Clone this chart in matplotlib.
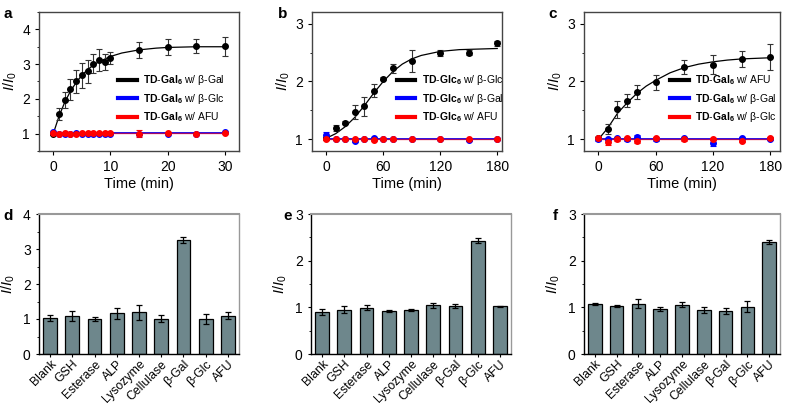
import numpy as np
import matplotlib.pyplot as plt
from matplotlib.ticker import MultipleLocator

plt.rcParams['font.family'] = ['Liberation Sans', 'DejaVu Sans']
plt.rcParams['mathtext.fontset'] = 'custom'
plt.rcParams['mathtext.rm'] = 'Liberation Sans'
plt.rcParams['mathtext.it'] = 'Liberation Sans:italic'
plt.rcParams['mathtext.bf'] = 'Liberation Sans:bold'

# ---- panel a: TD-Gal6 kinetics (30 min) ----
t_a = [0, 1, 2, 3, 4, 5, 6, 7, 8, 9, 10, 15, 20, 25, 30]
a_gal = [1.0, 1.57, 1.97, 2.28, 2.50, 2.68, 2.79, 3.01, 3.12, 3.07, 3.17, 3.41, 3.49, 3.52, 3.51]
a_gal_err = [0.03, 0.17, 0.23, 0.30, 0.32, 0.36, 0.34, 0.27, 0.31, 0.23, 0.18, 0.24, 0.23, 0.19, 0.27]
a_glc = [1.04, 1.0, 1.0, 1.0, 1.01, 1.0, 1.0, 0.99, 1.0, 1.0, 1.0, 1.0, 1.0, 1.0, 1.04]
a_glc_err = [0.02] * 15
a_afu = [1.02, 0.98, 1.02, 0.99, 1.0, 1.03, 1.01, 1.02, 1.02, 1.03, 1.03, 1.0, 1.03, 1.0, 1.03]
a_afu_err = [0.02, 0.02, 0.02, 0.02, 0.02, 0.02, 0.02, 0.02, 0.02, 0.02, 0.02, 0.1, 0.02, 0.02, 0.02]
a_fit_t = [0, 1, 2, 3, 4, 5, 6, 7, 8, 10, 12, 15, 18, 20, 25, 30]
a_fit = [1.0, 1.5, 1.9, 2.22, 2.47, 2.68, 2.84, 2.97, 3.07, 3.22, 3.32, 3.41, 3.46, 3.48, 3.50, 3.50]

# ---- panel b: TD-Glc6 kinetics (180 min) ----
t_b = [0, 10, 20, 30, 40, 50, 60, 70, 90, 120, 150, 180]
b_glc = [1.02, 1.20, 1.29, 1.48, 1.57, 1.84, 2.05, 2.23, 2.36, 2.49, 2.50, 2.66]
b_glc_err = [0.03, 0.05, 0.03, 0.12, 0.16, 0.11, 0.03, 0.08, 0.19, 0.05, 0.04, 0.04]
b_gal = [1.07, 1.0, 1.0, 0.97, 1.0, 1.02, 1.0, 1.0, 1.0, 1.01, 0.99, 1.0]
b_gal_err = [0.05, 0.01, 0.01, 0.02, 0.01, 0.02, 0.01, 0.01, 0.01, 0.01, 0.01, 0.01]
b_afu = [1.0, 1.0, 1.0, 1.0, 1.01, 0.99, 1.01, 1.0, 1.01, 1.0, 1.0, 1.01]
b_afu_err = [0.01] * 12
b_fit_t = [0, 10, 20, 30, 40, 50, 60, 70, 80, 90, 100, 120, 140, 160, 180]
b_fit = [1.02, 1.1, 1.22, 1.38, 1.58, 1.8, 2.0, 2.17, 2.3, 2.39, 2.45, 2.52, 2.55, 2.56, 2.57]

# ---- panel c: TD-Gal6 with AFU (180 min) ----
t_c = [0, 10, 20, 30, 40, 60, 90, 120, 150, 180]
c_afu = [1.02, 1.18, 1.52, 1.67, 1.82, 1.99, 2.25, 2.29, 2.39, 2.42]
c_afu_err = [0.02, 0.09, 0.15, 0.11, 0.12, 0.13, 0.12, 0.16, 0.14, 0.22]
c_gal = [1.0, 1.01, 1.02, 1.0, 1.04, 1.0, 1.02, 0.94, 1.02, 1.01]
c_gal_err = [0.02, 0.02, 0.02, 0.02, 0.03, 0.02, 0.02, 0.05, 0.02, 0.02]
c_glc = [1.03, 0.96, 1.0, 1.03, 0.97, 1.02, 1.0, 1.01, 0.98, 1.02]
c_glc_err = [0.02, 0.05, 0.02, 0.02, 0.04, 0.02, 0.02, 0.02, 0.02, 0.02]
c_fit_t = [0, 10, 20, 30, 40, 50, 60, 75, 90, 105, 120, 135, 150, 165, 180]
c_fit = [1.0, 1.2, 1.45, 1.63, 1.79, 1.92, 2.02, 2.15, 2.24, 2.3, 2.34, 2.37, 2.39, 2.4, 2.41]

# ---- panels d-f: selectivity bars ----
enzymes = ['Blank', 'GSH', 'Esterase', 'ALP', 'Lysozyme', 'Cellulase', 'β-Gal', 'β-Glc', 'AFU']
d_vals = [1.02, 1.09, 1.0, 1.16, 1.19, 1.01, 3.26, 0.99, 1.10]
d_err = [0.09, 0.15, 0.07, 0.15, 0.22, 0.10, 0.09, 0.14, 0.10]
e_vals = [0.90, 0.95, 0.99, 0.92, 0.95, 1.04, 1.03, 2.43, 1.02]
e_err = [0.07, 0.07, 0.05, 0.03, 0.02, 0.06, 0.05, 0.06, 0.01]
f_vals = [1.08, 1.03, 1.08, 0.97, 1.06, 0.94, 0.92, 1.01, 2.40]
f_err = [0.02, 0.03, 0.09, 0.04, 0.06, 0.07, 0.07, 0.12, 0.05]

W, H = 786, 405
fig = plt.figure(figsize=(W / 100, H / 100), dpi=100)


def px_axes(left, right, top, bottom):
    return fig.add_axes([left / W, (H - bottom) / H, (right - left) / W, (bottom - top) / H])


def lbl(probe, enzyme):
    return r'$\mathbf{TD}$' + r'$\mathbf{\text{-}}$' + r'$\mathbf{' + probe + r'_6}$' + ' w/ ' + enzyme


def kinetics(ax, t, series, fits, labels, leg_x):
    colors = ['black', 'blue', 'red']
    ft, fy = fits
    ax.plot(ft, fy, color='black', lw=0.9, zorder=2)
    ax.plot([t[0], t[-1]], [1.005, 1.005], color='blue', lw=1.3, zorder=2)
    ax.plot([t[0], t[-1]], [1.01, 1.01], color='red', lw=1.0, alpha=0.6, zorder=2)
    handles = []
    for (vals, errs), c, lab in zip(series, colors, labels):
        ax.errorbar(t, vals, yerr=errs, fmt='o', ms=4, color=c, ecolor='#333333' if c == 'black' else c,
                    elinewidth=0.8, capsize=2, capthick=0.8, zorder=3)
        h, = ax.plot([], [], color=c, lw=3, label=lab)
        handles.append(h)
    ax.legend(handles=handles, loc='center left', bbox_to_anchor=(leg_x, 0.375), frameon=False,
              fontsize=7.5, handlelength=1.8, handletextpad=0.6, labelspacing=0.45,
              borderpad=0, borderaxespad=0)
    for s in ax.spines.values():
        s.set_color('#444444')
        s.set_linewidth(1.0)
    ax.tick_params(axis='both', which='major', direction='out', length=3, labelsize=10, width=0.8)
    ax.tick_params(axis='y', which='minor', direction='out', length=1.5, width=0.6)
    ax.set_xlabel('Time (min)', fontsize=10.5, labelpad=2)
    ax.set_ylabel(r'$I/I_0$', fontsize=10.5, labelpad=2)


def bars(ax, vals, errs, ymax):
    x = np.arange(len(enzymes))
    ax.bar(x, vals, width=0.62, color='#6e878c', edgecolor='black', linewidth=0.9, zorder=2)
    ax.errorbar(x, vals, yerr=errs, fmt='none', ecolor='black', elinewidth=0.9, capsize=2.5,
                capthick=0.9, zorder=3)
    ax.set_xlim(-0.5, len(enzymes) - 0.5)
    ax.set_ylim(0, ymax)
    ax.yaxis.set_major_locator(MultipleLocator(1))
    ax.yaxis.set_minor_locator(MultipleLocator(0.5))
    ax.set_xticks(x)
    ax.spines['top'].set_color('#999999')
    ax.spines['right'].set_color('#999999')
    ax.spines['top'].set_linewidth(1.5)
    ax.spines['right'].set_linewidth(1.0)
    ax.spines['left'].set_linewidth(1.0)
    ax.spines['bottom'].set_linewidth(1.0)
    ax.tick_params(axis='y', which='major', direction='out', length=2.5, labelsize=10, width=0.8)
    ax.tick_params(axis='x', which='major', direction='out', length=2, width=0.8, pad=1)
    ax.tick_params(axis='y', which='minor', direction='out', length=1.5, width=0.6)
    ax.set_xticklabels(enzymes, rotation=45, ha='right', rotation_mode='anchor', fontsize=8.8)
    ax.set_ylabel(r'$I/I_0$', fontsize=10.5, labelpad=4)


# panel a
ax_a = px_axes(39, 239, 12, 151)
kinetics(ax_a, t_a, [(a_gal, a_gal_err), (a_glc, a_glc_err), (a_afu, a_afu_err)], (a_fit_t, a_fit),
         [lbl('Gal', 'β-Gal'), lbl('Gal', 'β-Glc'), lbl('Gal', 'AFU')], 0.395)
ax_a.set_xlim(-2.5, 32.5)
ax_a.set_ylim(0.5, 4.5)
ax_a.set_xticks([0, 10, 20, 30])
ax_a.set_yticks([1, 2, 3, 4])
ax_a.yaxis.set_minor_locator(MultipleLocator(0.5))

# panel b
ax_b = px_axes(312, 502, 12, 151)
kinetics(ax_b, t_b, [(b_glc, b_glc_err), (b_gal, b_gal_err), (b_afu, b_afu_err)], (b_fit_t, b_fit),
         [lbl('Glc', 'β-Glc'), lbl('Glc', 'β-Gal'), lbl('Glc', 'AFU')], 0.445)
ax_b.set_xlim(-15, 185)
ax_b.set_ylim(0.8, 3.2)
ax_b.set_xticks([0, 60, 120, 180])
ax_b.set_yticks([1, 2, 3])
ax_b.yaxis.set_minor_locator(MultipleLocator(0.5))

# panel c
ax_c = px_axes(584, 780, 12, 151)
kinetics(ax_c, t_c, [(c_afu, c_afu_err), (c_gal, c_gal_err), (c_glc, c_glc_err)], (c_fit_t, c_fit),
         [lbl('Gal', 'AFU'), lbl('Gal', 'β-Gal'), lbl('Gal', 'β-Glc')], 0.44)
ax_c.set_xlim(-15, 190)
ax_c.set_ylim(0.8, 3.2)
ax_c.set_xticks([0, 60, 120, 180])
ax_c.set_yticks([1, 2, 3])
ax_c.yaxis.set_minor_locator(MultipleLocator(0.5))

# bottom row
ax_d = px_axes(39, 239, 214, 354)
bars(ax_d, d_vals, d_err, 4)
ax_e = px_axes(311, 511, 214, 354)
bars(ax_e, e_vals, e_err, 3)
ax_f = px_axes(584, 780, 214, 354)
bars(ax_f, f_vals, f_err, 3)

for letter, x, y in [('a', 3, 14), ('b', 278, 14), ('c', 548, 14),
                     ('d', 3, 216), ('e', 283, 216), ('f', 553, 216)]:
    fig.text(x / W, 1 - y / H, letter, fontsize=11, fontweight='bold', va='center', ha='left')

fig.savefig('out.png', dpi=100, facecolor='white')
